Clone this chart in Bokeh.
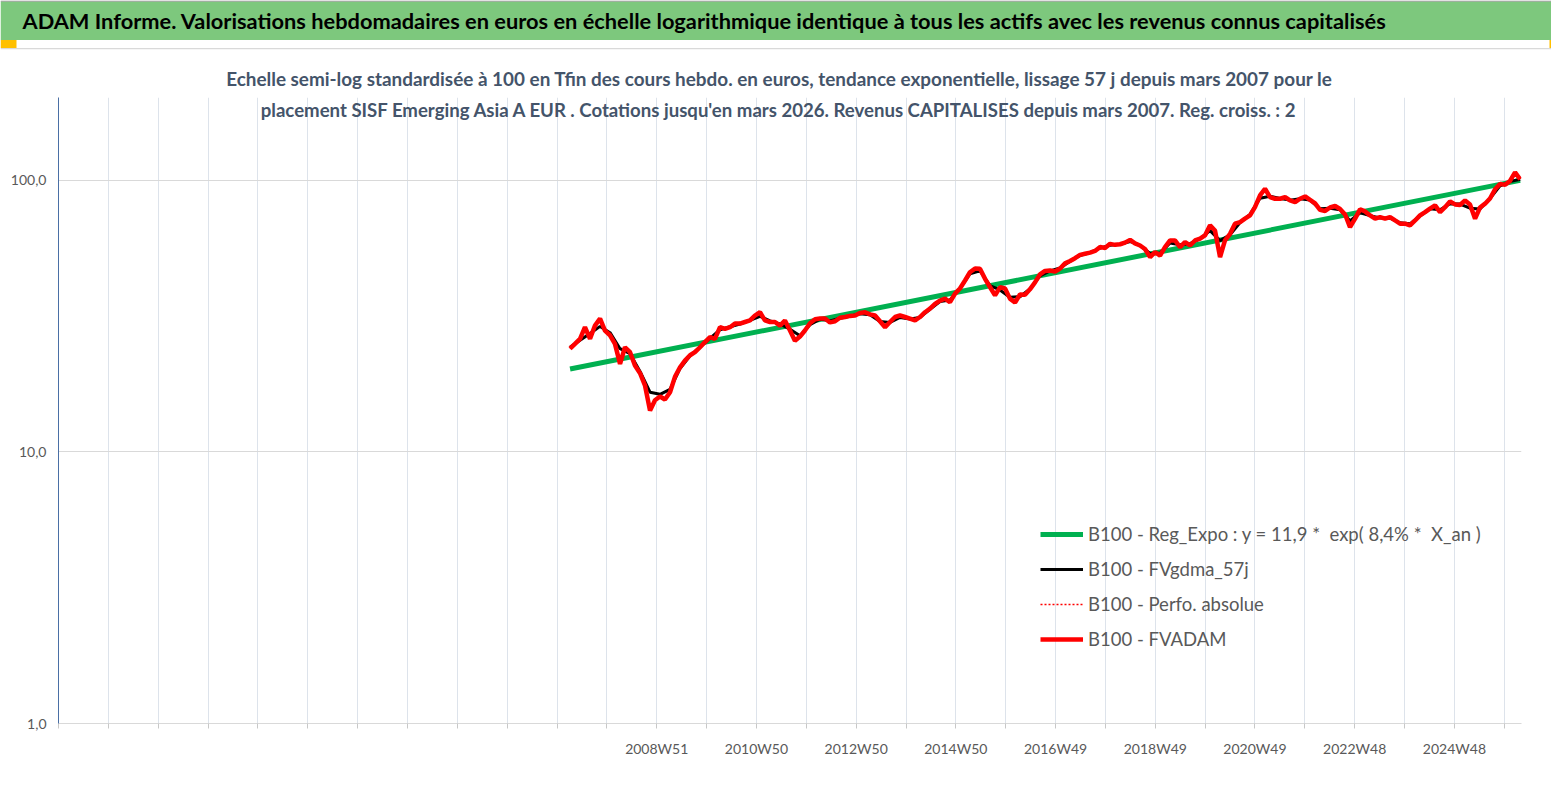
import pandas as pd
from bokeh.plotting import figure
from bokeh.layouts import column
from bokeh.models import Range1d, FixedTicker, Label, BoxAnnotation, Legend, LegendItem
from bokeh.embed import file_html
from bokeh.resources import INLINE

# ---------------- texts ----------------
TITLE = ("ADAM Informe. Valorisations hebdomadaires en euros en échelle logarithmique "
         "identique à tous les actifs avec les revenus connus capitalisés")
SUB1 = ("Echelle semi-log standardisée à 100 en Tfin des cours hebdo. en euros, tendance "
        "exponentielle, lissage 57 j depuis mars 2007 pour le")
SUB2 = ("placement SISF  Emerging Asia A EUR . Cotations jusqu'en mars 2026. Revenus "
        "CAPITALISES depuis mars 2007. Reg. croiss. : 2")
LEGEND_LABELS = [
    "B100 - Reg_Expo : y = 11,9 *  exp( 8,4% *  X_an )",
    "B100 - FVgdma_57j",
    "B100 - Perfo. absolue",
    "B100 - FVADAM",
]

# ---------------- axes data ----------------
REF_WEEK = "2008-12-15"          # monday of 2008W51 (first labelled tick)
X_TICK_LABELS = ["2008W51", "2010W50", "2012W50", "2014W50", "2016W49",
                 "2018W49", "2020W49", "2022W48", "2024W48"]
Y_TICKS = [1, 10, 100]
Y_TICK_LABELS = ["1,0", "10,0", "100,0"]

# ---------------- series ----------------
START = "2007-03-23"
END = "2026-03-20"

fvadam = [
    24.0, 25.0, 26.1, 28.8, 26.1, 29.2, 31.0, 28.0, 26.9, 25.0,
    21.1, 24.3, 23.3, 20.8, 19.5, 17.6, 14.2, 15.5, 16.0, 15.6,
    16.6, 18.9, 20.5, 21.7, 22.7, 23.3, 24.3, 25.4, 26.5, 26.1,
    28.8, 28.4, 28.8, 29.7, 29.7, 30.1, 30.5, 31.8, 32.7, 30.5,
    30.1, 30.1, 29.2, 30.5, 28.0, 25.7, 26.6, 28.0, 29.8, 30.8,
    31.0, 31.0, 30.0, 30.3, 31.2, 31.4, 31.7, 31.8, 32.5, 32.7,
    32.1, 31.8, 30.3, 28.8, 30.1, 31.4, 31.8, 31.4, 31.0, 30.5,
    31.4, 32.7, 33.7, 35.1, 36.1, 36.7, 35.6, 38.3, 40.0, 42.8,
    45.9, 47.4, 47.3, 43.4, 40.5, 37.7, 40.4, 40.0, 36.7, 35.5,
    38.0, 37.9, 39.7, 42.1, 45.1, 46.4, 46.6, 46.2, 47.4, 49.5,
    50.5, 51.7, 53.2, 53.7, 54.2, 55.0, 56.9, 56.4, 58.4, 57.9,
    58.2, 59.0, 60.4, 58.6, 57.6, 55.9, 52.2, 54.4, 52.9, 56.8,
    60.1, 60.1, 56.8, 59.3, 57.6, 60.1, 61.0, 62.7, 68.3, 65.4,
    52.2, 60.1, 63.6, 69.3, 70.2, 72.3, 74.3, 79.7, 88.1, 93.2,
    86.8, 85.6, 85.6, 86.8, 84.4, 83.2, 85.6, 87.3, 84.8, 82.3,
    77.9, 77.2, 79.5, 80.5, 78.5, 74.9, 67.3, 72.3, 78.2, 76.9,
    74.3, 72.3, 73.3, 72.3, 73.3, 71.2, 69.3, 69.3, 68.3, 71.2,
    74.3, 76.4, 78.7, 80.9, 76.4, 79.7, 83.7, 81.6, 81.2, 84.4,
    81.6, 72.3, 79.5, 82.1, 85.8, 92.7, 97.1, 96.3, 99.6, 107.0,
    101.0,
]

fvgdma_57j = [
    24.3, 25.8, 27.3, 29.0, 27.5, 24.0, 23.0, 19.8, 16.6, 16.3,
    17.0, 20.3, 22.6, 24.3, 26.2, 28.2, 28.9, 29.6, 30.5, 31.6,
    30.4, 29.6, 28.3, 26.8, 29.4, 30.8, 30.4, 31.1, 31.6, 32.3,
    32.0, 30.2, 30.0, 31.3, 30.9, 31.3, 33.5, 35.8, 36.3, 40.0,
    45.3, 46.5, 41.0, 39.5, 37.1, 37.3, 39.8, 44.5, 46.4, 47.6,
    50.4, 52.9, 54.2, 56.3, 57.7, 58.2, 59.6, 57.6, 53.8, 54.0,
    58.8, 58.0, 58.5, 61.0, 65.3, 60.0, 63.0, 70.0, 75.0, 86.0,
    87.5, 85.8, 84.6, 85.6, 84.6, 78.6, 79.0, 78.0, 71.0, 76.0,
    74.2, 72.7, 72.6, 69.8, 69.2, 74.0, 78.7, 78.0, 82.0, 81.8,
    79.0, 78.5, 85.8, 95.5, 99.0, 101.0,
]

reg_expo_dates = [START, END]
reg_expo = [20.2, 100.0]

# ---------------- build ----------------
ref = pd.Timestamp(REF_WEEK)


def to_weeks(dates):
    return [(pd.Timestamp(d) - ref).days / 7.0 for d in dates]


x_red = to_weeks(pd.date_range(START, END, periods=len(fvadam)))
x_blk = to_weeks(pd.date_range(START, END, periods=len(fvgdma_57j)))
x_grn = to_weeks(reg_expo_dates)

FONT = "Lato"
GREY_TXT = "#595959"
SUB_COLOR = "#44546A"
W = 1551
TOTAL_H = 774
HEAD_H = 97
FOOT_H = 4
MAIN_H = TOTAL_H - HEAD_H - FOOT_H


def plain_fig(height, y0, y1):
    f = figure(width=W, height=height, x_range=Range1d(0, W), y_range=Range1d(y1, y0),
               output_backend="svg", toolbar_location=None,
               x_axis_location=None, y_axis_location=None,
               min_border=0, min_border_left=0, min_border_right=0,
               min_border_top=0, min_border_bottom=0,
               background_fill_color="white", border_fill_color="white",
               outline_line_color=None)
    f.grid.visible = False
    return f


def add_box(f, left, right, top, bottom, color):
    f.add_layout(BoxAnnotation(left=left, right=right, top=top, bottom=bottom,
                               fill_color=color, fill_alpha=1, line_color=None))


# ---------------- header (title bar + first subtitle line) ----------------
head = plain_fig(HEAD_H, 0, HEAD_H)
add_box(head, 0, W, 0, 1.2, "#8C8C8C")          # outer frame line
add_box(head, 0, W, 1.2, 39.5, "#7DC87D")        # green title bar
add_box(head, 0, W, 47.5, 48.7, "#D9D9D9")       # chart area border
add_box(head, 0, 16, 39.5, 47.5, "#FFC000")      # selection handles
add_box(head, 1549, W, 39.5, 47.5, "#FFC000")

head.add_layout(Label(x=22, y=20, text=TITLE, text_baseline="middle", text_align="left",
                      text_font=FONT, text_font_style="bold", text_font_size="21.8px",
                      text_color="black"))
head.add_layout(Label(x=779, y=78, text=SUB1, text_baseline="middle", text_align="center",
                      text_font=FONT, text_font_style="bold", text_font_size="18.9px",
                      text_color=SUB_COLOR))

# ---------------- footer (chart area bottom border) ----------------
foot = plain_fig(FOOT_H, TOTAL_H - FOOT_H, TOTAL_H)
add_box(foot, 0, W, 772.6, 773.8, "#D9D9D9")
add_box(foot, 0, 16, 773.8, TOTAL_H, "#FFC000")
add_box(foot, 1549, W, TOTAL_H - FOOT_H, TOTAL_H, "#FFC000")

# ---------------- main chart ----------------
p = figure(width=W, height=MAIN_H, y_axis_type="log",
           x_range=Range1d(-624, 902), y_range=Range1d(1, 202),
           output_backend="svg", toolbar_location=None,
           min_border_left=58, min_border_right=30,
           min_border_top=0, min_border_bottom=MAIN_H - 626,
           background_fill_color="white", border_fill_color="white",
           outline_line_color=None)

# keep each figure's frame independent (no frame alignment in the column)
for fig in (head, p, foot):
    if "frame_align" in fig.properties():
        fig.frame_align = False

# x axis: a tick every 52 weeks, label every 104 weeks
x_ticks = list(range(-624, 902, 52))
overrides = {t: "" for t in x_ticks}
for i, lbl in enumerate(X_TICK_LABELS):
    overrides[i * 104] = lbl
p.xaxis.ticker = FixedTicker(ticks=x_ticks)
p.xaxis.major_label_overrides = overrides
p.xaxis.minor_tick_line_color = None
p.xaxis.axis_line_color = "#D9D9D9"
p.xaxis.major_tick_line_color = "#C8C8C8"
p.xaxis.major_tick_in = 0
p.xaxis.major_tick_out = 5
p.xaxis.major_label_standoff = 11
p.xaxis.major_label_text_font = FONT
p.xaxis.major_label_text_font_size = "14px"
p.xaxis.major_label_text_color = GREY_TXT

p.yaxis.ticker = FixedTicker(ticks=Y_TICKS)
p.yaxis.major_label_overrides = dict(zip(Y_TICKS, Y_TICK_LABELS))
p.yaxis.minor_tick_line_color = None
p.yaxis.axis_line_color = "#4A6FA5"
p.yaxis.major_tick_in = 0
p.yaxis.major_tick_out = 0
p.yaxis.major_label_standoff = 12
p.yaxis.major_label_text_font = FONT
p.yaxis.major_label_text_font_size = "14px"
p.yaxis.major_label_text_color = GREY_TXT

p.xgrid.grid_line_color = "#DDE3EB"
p.ygrid.grid_line_color = "#D9D9D9"

# series
g = p.line(x_grn, reg_expo, line_color="#00B050", line_width=5)
b = p.line(x_blk, fvgdma_57j, line_color="black", line_width=3)
d = p.line(x_red, fvadam, line_color="#FF0000", line_width=1.6, line_dash="2 2")
r = p.line(x_red, fvadam, line_color="#FF0000", line_width=4.5)

legend = Legend(items=[LegendItem(label=LEGEND_LABELS[0], renderers=[g]),
                       LegendItem(label=LEGEND_LABELS[1], renderers=[b]),
                       LegendItem(label=LEGEND_LABELS[2], renderers=[d]),
                       LegendItem(label=LEGEND_LABELS[3], renderers=[r])],
                location=(982, 73), glyph_width=43, glyph_height=22,
                label_height=22, spacing=13, padding=0, margin=0,
                label_standoff=5, label_text_font=FONT,
                label_text_font_size="18.5px", label_text_color=GREY_TXT,
                background_fill_alpha=0, border_line_alpha=0)
p.add_layout(legend)

p.add_layout(Label(x=723, y=614, x_units="screen", y_units="screen", text=SUB2,
                   text_baseline="middle", text_align="center", text_font=FONT,
                   text_font_style="bold", text_font_size="18.6px",
                   text_color=SUB_COLOR))

layout = column(head, p, foot, spacing=0)
open("out.html", "w").write(file_html(layout, INLINE))
